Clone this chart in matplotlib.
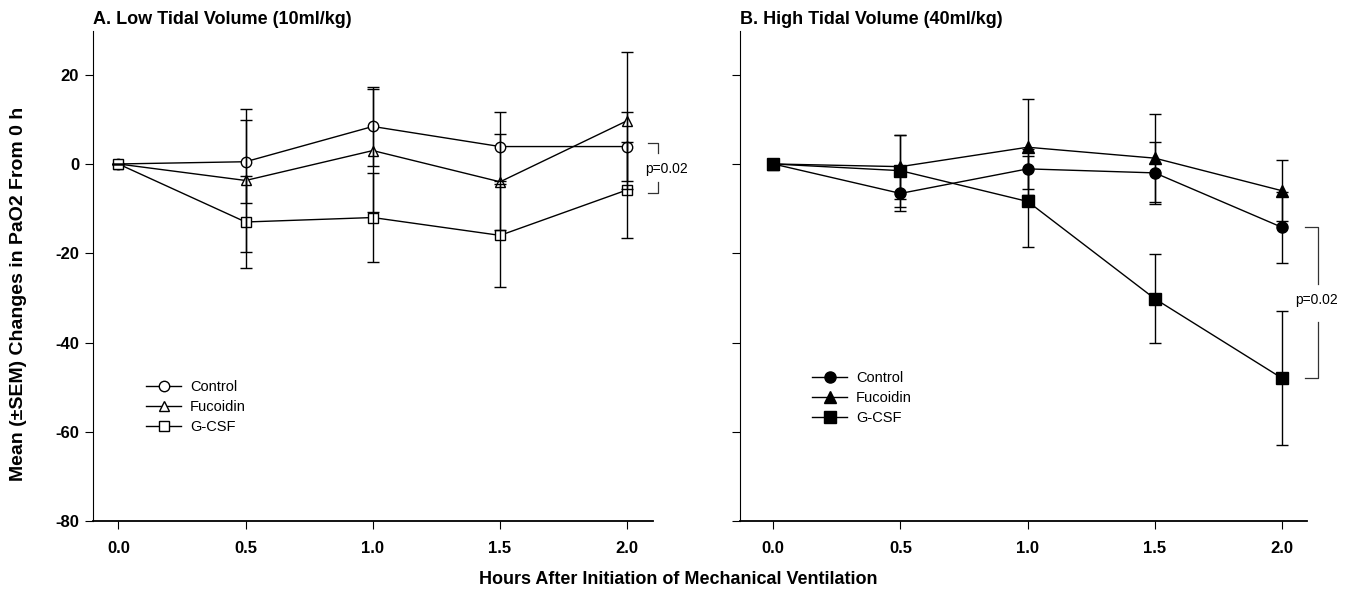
import matplotlib.pyplot as plt
from matplotlib.lines import Line2D

plt.rcParams['font.family'] = ['Liberation Sans', 'DejaVu Sans']

hours = [0.0, 0.5, 1.0, 1.5, 2.0]
groups = ['Control', 'Fucoidin', 'G-CSF']

# A. low tidal volume
low_control = [0.0, 0.5, 8.4, 3.9, 3.9]
low_control_sem = [0.0, 9.3, 8.8, 7.7, 7.7]
low_fucoidin = [0.0, -3.7, 3.0, -4.0, 9.7]
low_fucoidin_sem = [0.0, 16.0, 13.7, 10.7, 15.4]
low_gcsf = [0.0, -13.0, -12.0, -16.0, -5.8]
low_gcsf_sem = [0.0, 10.4, 9.9, 11.6, 10.8]

# B. high tidal volume
high_control = [0.0, -6.6, -1.1, -2.0, -14.2]
high_control_sem = [0.0, 4.0, 4.5, 7.0, 8.0]
high_fucoidin = [0.0, -0.6, 3.75, 1.3, -6.0]
high_fucoidin_sem = [0.0, 7.2, 10.75, 9.9, 6.8]
high_gcsf = [0.0, -1.5, -8.4, -30.2, -48.0]
high_gcsf_sem = [0.0, 8.1, 10.2, 10.0, 15.0]

yticks = [20, 0, -20, -40, -60, -80]
xticks = [0.0, 0.5, 1.0, 1.5, 2.0]
markers = ['o', '^', 's']

fig = plt.figure(figsize=(13.57, 6.01), dpi=100)
ax1 = fig.add_axes([0.0685, 0.133, 0.4125, 0.817])
ax2 = fig.add_axes([0.5455, 0.133, 0.418, 0.817])


def style_axis(ax, xlim, show_ylabels):
    ax.set_xlim(*xlim)
    ax.set_ylim(-80, 30)
    ax.spines['top'].set_visible(False)
    ax.spines['right'].set_visible(False)
    ax.spines['left'].set_linestyle((0, (1, 1)))
    ax.spines['left'].set_linewidth(0.8)
    ax.spines['bottom'].set_linewidth(1.3)
    ax.set_xticks(xticks)
    ax.set_xticklabels([f'{v:.1f}' for v in xticks], fontsize=12, fontweight='bold')
    ax.set_yticks(yticks)
    if show_ylabels:
        ax.set_yticklabels([str(v) for v in yticks], fontsize=12, fontweight='bold')
    else:
        ax.set_yticklabels([])
    ax.tick_params(axis='x', direction='out', length=6, width=0.8, pad=8)
    ax.tick_params(axis='y', direction='out', length=6, width=0.8, pad=4)


def draw(ax, series, filled, msize, legend_anchor):
    face = 'black' if filled else 'white'
    handles = []
    for (name, vals, sem), m in zip(series, markers):
        ax.plot(hours, vals, color='black', lw=1.0, marker=m, ms=msize,
                mfc=face, mec='black', mew=1.0, zorder=3)
        # error bars sit on top of the markers, like in the original
        ax.errorbar(hours, vals, yerr=sem, fmt='none', ecolor='black',
                    elinewidth=1.0, capsize=4.5, capthick=1.0, zorder=4)
        handles.append(Line2D([], [], color='black', lw=1.0, marker=m, ms=msize,
                              mfc=face, mec='black', mew=1.0, label=name))
    ax.legend(handles=handles, loc='upper left', bbox_to_anchor=legend_anchor,
              frameon=False, fontsize=10.5, handlelength=2.4, handletextpad=0.6,
              labelspacing=0.42, borderpad=0, borderaxespad=0)


draw(ax1, [('Control', low_control, low_control_sem),
           ('Fucoidin', low_fucoidin, low_fucoidin_sem),
           ('G-CSF', low_gcsf, low_gcsf_sem)], False, 7.5, (0.095, 0.287))
draw(ax2, [('Control', high_control, high_control_sem),
           ('Fucoidin', high_fucoidin, high_fucoidin_sem),
           ('G-CSF', high_gcsf, high_gcsf_sem)], True, 8, (0.127, 0.306))

style_axis(ax1, (-0.1, 2.1), True)
style_axis(ax2, (-0.13, 2.1), False)

ax1.set_title('A. Low Tidal Volume (10ml/kg)', loc='left', fontsize=13,
              fontweight='bold', pad=4, x=0.0)
ax2.set_title('B. High Tidal Volume (40ml/kg)', loc='left', fontsize=13,
              fontweight='bold', pad=4, x=0.0)

fig.text(0.0135, 0.511, 'Mean (\u00b1SEM) Changes in PaO2 From 0 h',
         rotation=90, ha='center', va='center', fontsize=14, fontweight='bold')
fig.text(0.5, 0.035, 'Hours After Initiation of Mechanical Ventilation',
         ha='center', va='center', fontsize=13, fontweight='bold')

# significance brackets
bk = dict(color='#333333', lw=0.9, clip_on=False)
ax1.plot([2.08, 2.12, 2.12], [4.6, 4.6, 2.5], **bk)
ax1.plot([2.08, 2.12, 2.12], [-6.5, -6.5, -4.0], **bk)
ax1.text(2.07, -1.2, 'p=0.02', fontsize=10, va='center', ha='left')

ax2.plot([2.09, 2.14, 2.14], [-14.2, -14.2, -27.0], **bk)
ax2.plot([2.09, 2.14, 2.14], [-48.0, -48.0, -35.5], **bk)
ax2.text(2.05, -30.5, 'p=0.02', fontsize=10, va='center', ha='left')

fig.savefig('out.png', dpi=100)
